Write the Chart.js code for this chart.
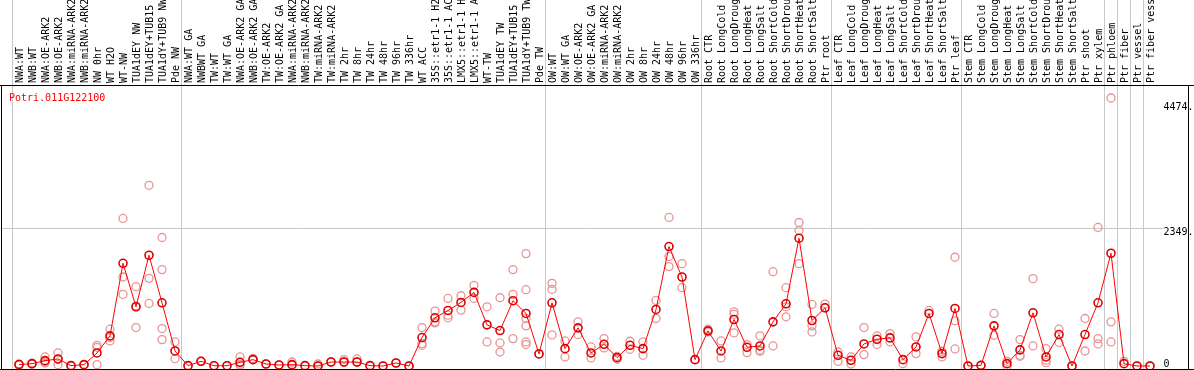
<!DOCTYPE html>
<html>
<head>
<meta charset="utf-8">
<script src="https://cdn.jsdelivr.net/npm/chart.js@4"></script>
<style>
  body { margin: 0; background: #fff; }
  canvas { display: block; }
</style>
</head>
<body>
<canvas id="geneChart" width="1194" height="370"></canvas>
<script>
'use strict';

const geneName = 'Potri.011G122100';

const samples = [
  'NWA:WT', 'NWB:WT', 'NWA:OE-ARK2', 'NWB:OE-ARK2', 'NWA:miRNA-ARK2', 'NWB:miRNA-ARK2',
  'NW 0hr', 'WT H2O', 'WT-NW', 'TUA1dEY NW', 'TUA1dEY+TUB15', 'TUA1dY+TUB9 NW', 'Pde NW',
  'NWA:WT GA', 'NWBWT GA', 'TW:WT', 'TW:WT GA', 'NWA:OE-ARK2 GA', 'NWB:OE-ARK2 GA',
  'TW:OE-ARK2', 'TW:OE-ARK2 GA', 'NWA:miRNA-ARK2', 'NWB:miRNA-ARK2', 'TW:miRNA-ARK2',
  'TW:miRNA-ARK2', 'TW 2hr', 'TW 8hr', 'TW 24hr', 'TW 48hr', 'TW 96hr', 'TW 336hr',
  'WT ACC', '35S::etr1-1 H2', '35S::etr1-1 AC', 'LMX5::etr1-1 H', 'LMX5::etr1-1 A',
  'WT-TW', 'TUA1dEY TW', 'TUA1dEY+TUB15', 'TUA1dY+TUB9 TW', 'Pde TW',
  'OW:WT', 'OW:WT GA', 'OW:OE-ARK2', 'OW:OE-ARK2 GA', 'OW:miRNA-ARK2', 'OW:miRNA-ARK2',
  'OW 2hr', 'OW 8hr', 'OW 24hr', 'OW 48hr', 'OW 96hr', 'OW 336hr',
  'Root CTR', 'Root LongCold', 'Root LongDroug', 'Root LongHeat', 'Root LongSalt',
  'Root ShortCold', 'Root ShortDrou', 'Root ShortHeat', 'Root ShortSalt', 'Ptr root',
  'Leaf CTR', 'Leaf LongCold', 'Leaf LongDroug', 'Leaf LongHeat', 'Leaf LongSalt',
  'Leaf ShortCold', 'Leaf ShortDrou', 'Leaf ShortHeat', 'Leaf ShortSalt', 'Ptr leaf',
  'Stem CTR', 'Stem LongCold', 'Stem LongDroug', 'Stem LongHeat', 'Stem LongSalt',
  'Stem ShortCold', 'Stem ShortDrou', 'Stem ShortHeat', 'Stem ShortSalt', 'Ptr shoot',
  'Ptr xylem', 'Ptr phloem', 'Ptr fiber', 'Ptr vessel', 'Ptr fiber vess'
];

// mean expression per sample
const means = [
  25, 40, 91, 120, 6, 23, 222, 513, 1750, 1009, 1887, 1077, 256,
  6, 80, 5, 5, 63, 108, 34, 17, 23, 6, 0, 68, 68, 68, 6, 0, 51, 0,
  485, 821, 946, 1083, 1254, 701, 604, 1112, 895, 205,
  1077, 296, 650, 222, 370, 142, 353, 296, 963, 2035, 1516, 108,
  599, 256, 792, 319, 342, 752, 1060, 2177, 775, 992,
  182, 97, 376, 456, 479, 108, 325, 895, 211, 980,
  0, 11, 684, 40, 274, 906, 154, 536, 0, 536,
  1077, 1921, 40, 0, 0
];

// single replicate values per sample
const replicates = [
  [15, 30, 30], [30, 45, 45], [154, 68, 50], [222, 23, 115], [6, 6], [23, 23],
  [353, 319, 23], [627, 427, 485], [2514, 1516, 1220], [1351, 655, 1020],
  [3078, 1493, 1066], [2189, 1642, 638, 450], [410, 125],
  [6], [80, 80], [5], [5], [154, 30, 10], [130, 108], [34], [17], [68, 10], [6],
  [34, 0], [68], [110, 68], [120, 68], [6], [0], [51], [0],
  [655, 382, 353], [935, 752, 735], [1151, 866, 821], [1197, 952], [1374, 1151],
  [1009, 410], [1163, 393, 239], [1642, 1220, 467], [1915, 1300, 809, 684, 410, 365], [205],
  [1408, 1305, 530], [427, 154], [752, 536], [325, 137], [467, 308], [114, 165],
  [422, 285], [410, 182], [1117, 809], [2531, 1864, 1693], [1744, 1334], [108],
  [581, 627], [427, 137], [923, 878, 564], [365, 228], [513, 268, 251],
  [1607, 342], [1334, 1009, 838], [2445, 2308, 1744], [1049, 684, 581], [1055, 992],
  [239, 80], [154, 34], [655, 194], [513, 365], [553, 410], [40], [496, 211],
  [946], [251, 154], [1853, 770, 291],
  [0], [11], [895, 524], [80, 0], [450, 182, 165], [1488, 342], [296, 97, 57],
  [627, 399], [0], [809, 256],
  [2360, 467, 376], [4566, 752, 410], [80], [0], [0]
];

const yTickValues = [0, 2349, 4474];
const yTickLabels = ['0', '2349.', '4474.'];

// sample groups start at these indices (vertical separators)
const groupStarts = [0, 13, 41, 53, 63, 73, 84, 85, 86, 87, 88];

const repPoints = replicates.flatMap((vals, i) => vals.map(v => ({x: i, y: v})));

const monoFont = {family: 'DejaVu Sans Mono', size: 10};

const framePlugin = {
  id: 'frame',
  beforeDatasetsDraw(chart) {
    const ctx = chart.ctx;
    const y = Math.round(chart.scales.y.getPixelForValue(2349)) + 0.5;
    ctx.save();
    ctx.strokeStyle = '#c8c8c8';
    ctx.lineWidth = 1;
    ctx.beginPath();
    ctx.moveTo(2, y);
    ctx.lineTo(chart.chartArea.left, y);
    ctx.stroke();
    ctx.restore();
  },
  afterDraw(chart) {
    const ctx = chart.ctx;
    ctx.save();
    ctx.strokeStyle = '#000';
    ctx.lineWidth = 1;
    ctx.beginPath();
    ctx.moveTo(0, 85.5); ctx.lineTo(1194, 85.5);
    ctx.moveTo(1.5, 85.5); ctx.lineTo(1.5, 370);
    ctx.moveTo(1188.5, 85.5); ctx.lineTo(1188.5, 370);
    ctx.moveTo(0, 369.5); ctx.lineTo(1194, 369.5);
    ctx.stroke();
    ctx.fillStyle = '#ff0000';
    ctx.font = '10px "DejaVu Sans Mono"';
    ctx.textBaseline = 'alphabetic';
    ctx.fillText(geneName, 9, 101);
    ctx.restore();
  }
};

new Chart(document.getElementById('geneChart'), {
  type: 'line',
  data: {
    labels: samples,
    datasets: [{
      label: 'mean',
      data: means,
      borderColor: '#ff0000',
      borderWidth: 1,
      pointRadius: 4,
      pointBorderWidth: 1.6,
      pointBorderColor: '#dd0000',
      pointBackgroundColor: 'rgba(0,0,0,0)',
      tension: 0,
      clip: 6
    }, {
      label: 'replicates',
      data: repPoints,
      parsing: false,
      showLine: false,
      pointRadius: 4,
      pointBorderWidth: 1.3,
      pointBorderColor: '#e89494',
      pointBackgroundColor: 'rgba(0,0,0,0)',
      clip: 6
    }]
  },
  options: {
    responsive: false,
    animation: false,
    devicePixelRatio: 1,
    events: [],
    layout: {autoPadding: false, padding: {left: 12.5, top: 0, right: 0, bottom: 1}},
    scales: {
      x: {
        type: 'category',
        position: 'top',
        offset: true,
        afterFit: (scale) => {
          scale.height = 86;
          scale.paddingLeft = 0;
          scale.paddingRight = 0;
        },
        border: {display: false},
        grid: {
          offset: true,
          tickLength: 86,
          color: (c) => groupStarts.includes(c.index) ? '#c8c8c8' : 'rgba(0,0,0,0)'
        },
        ticks: {
          autoSkip: false,
          minRotation: 90,
          maxRotation: 90,
          padding: -83,
          labelOffset: 13,
          color: '#000',
          font: monoFont
        }
      },
      y: {
        position: 'right',
        min: -51,
        max: 4770,
        afterFit: (scale) => {
          scale.width = 37.5;
          scale.paddingTop = 0;
          scale.paddingBottom = 0;
        },
        afterBuildTicks: (scale) => { scale.ticks = yTickValues.map(v => ({value: v})); },
        border: {display: false},
        grid: {
          tickLength: 7,
          color: (c) => c.tick && c.tick.value === 2349 ? '#c8c8c8' : 'rgba(0,0,0,0)'
        },
        ticks: {
          padding: 0,
          labelOffset: 4,
          color: '#000',
          font: monoFont,
          callback: (v) => {
            const label = yTickLabels[yTickValues.indexOf(v)];
            return v === 0 ? [label, ''] : label;
          }
        }
      }
    },
    plugins: {
      legend: {display: false},
      tooltip: {enabled: false}
    }
  },
  plugins: [framePlugin]
});
</script>
</body>
</html>
